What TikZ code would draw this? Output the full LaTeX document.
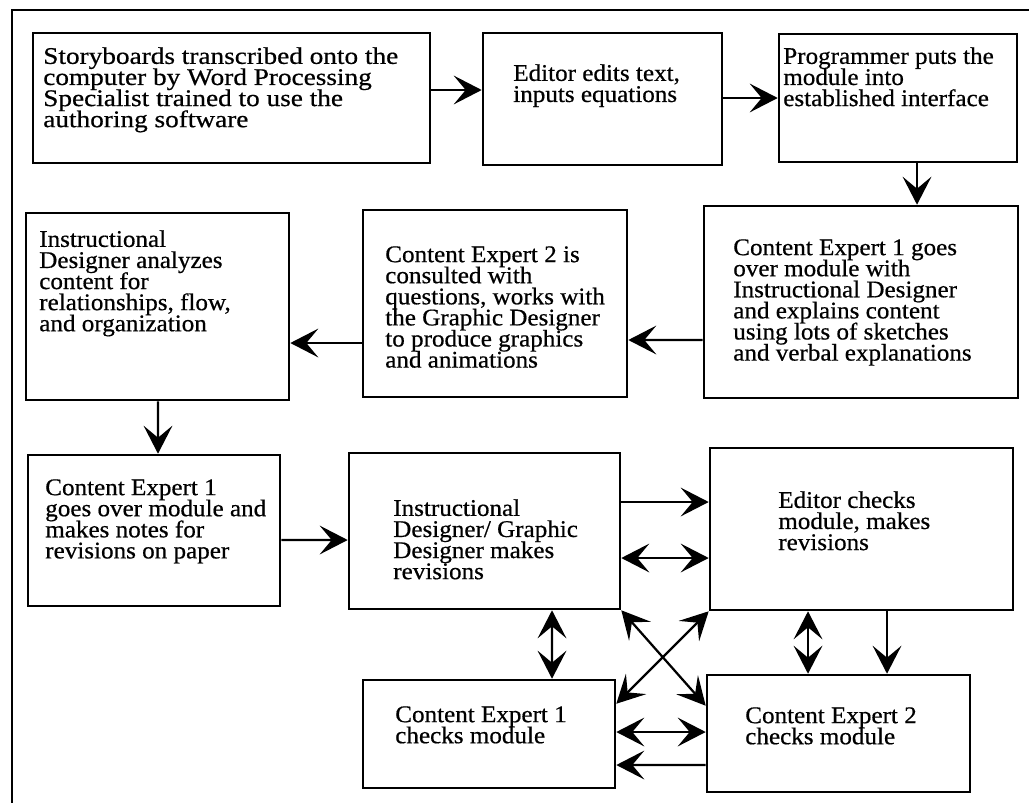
\documentclass[tikz,border=0pt]{standalone}
\usepackage{fontspec}
\setmainfont{Liberation Serif}[FakeStretch=1.05, FakeBold=0.6]
\usetikzlibrary{arrows.meta,calc}

\begin{document}
\begin{tikzpicture}[x=0.025cm, y=-0.025cm]
  \tikzstyle{box}=[rectangle, draw, line width=1.8pt, inner sep=0pt]
  \tikzstyle{txt}=[anchor=north west, inner sep=0pt, align=left,
    font={\fontsize{17}{15}\selectfont\lineskiplimit=-50pt}]
  \tikzstyle{wide}=[font={\fontsize{17}{15}\selectfont\lineskiplimit=-50pt\addfontfeature{FakeStretch=1.14}}]
  \tikzstyle{link}=[line width=1.6pt, >={Stealth[length=0.7cm, width=0.72cm, inset=0.3cm]}]

  \useasboundingbox (0,0) rectangle (1029,803);
  \draw[line width=2pt] (1029,10) -- (12,10) -- (12,803);

  \node[box, minimum width=9.925cm, minimum height=3.25cm]  (1)  at (231.5,98)  {};
  \node[box, minimum width=5.975cm, minimum height=3.3cm]   (2)  at (602.5,99)  {};
  \node[box, minimum width=5.95cm,  minimum height=3.2cm]   (3)  at (898,98)    {};
  \node[box, minimum width=7.85cm,  minimum height=4.8cm]   (4)  at (861,302)   {};
  \node[box, minimum width=6.6cm,   minimum height=4.675cm] (5)  at (495,303.5) {};
  \node[box, minimum width=6.575cm, minimum height=4.675cm] (6)  at (157.5,306.5) {};
  \node[box, minimum width=6.3cm,   minimum height=3.775cm] (7)  at (154,530.5) {};
  \node[box, minimum width=6.775cm, minimum height=3.9cm]   (8)  at (484.5,531) {};
  \node[box, minimum width=7.575cm, minimum height=4.05cm]  (9)  at (861.5,529) {};
  \node[box, minimum width=6.3cm,   minimum height=2.7cm]   (10) at (489,734)   {};
  \node[box, minimum width=6.575cm, minimum height=2.925cm] (11) at (838.5,733.5) {};

  \node[txt, wide] (t1) at (43,47) {Storyboards transcribed onto the\\computer by Word Processing\\Specialist trained to use the\\authoring software};
  \node[txt] (t2)  at (513,64)  {Editor edits text,\\inputs equations};
  \node[txt] (t3)  at (783,47)  {Programmer puts the\\module into\\established interface};
  \node[txt] (t4)  at (733,239) {Content Expert 1 goes\\over module with\\Instructional Designer\\and explains content\\using lots of sketches\\and verbal explanations};
  \node[txt] (t5)  at (385,246) {Content Expert 2 is\\consulted with\\questions, works with\\the Graphic Designer\\to produce graphics\\and animations};
  \node[txt] (t6)  at (39,230)  {Instructional\\Designer analyzes\\content for\\relationships, flow,\\and organization};
  \node[txt] (t7)  at (45,479)  {Content Expert 1\\goes over module and\\makes notes for\\revisions on paper};
  \node[txt] (t8)  at (393,499) {Instructional\\Designer/ Graphic\\Designer makes\\revisions};
  \node[txt] (t9)  at (778,491) {Editor checks\\module, makes\\revisions};
  \node[txt] (t10) at (395,706) {Content Expert 1\\checks module};
  \node[txt] (t11) at (745,707) {Content Expert 2\\checks module};

  \draw[link, ->] ($(1.east)+(0,-8)$) -- ($(2.west)+(0,-9)$);
  \draw[link, ->] ($(2.east)+(0,-1)$) -- (3.west);
  \draw[link, ->] ($(3.south)+(19,0)$) -- ($(4.north)+(56,0)$);
  \draw[link, ->] ($(4.west)+(0,38)$) -- ($(5.east)+(0,36.5)$);
  \draw[link, ->] ($(5.west)+(0,39.5)$) -- ($(6.east)+(0,36.5)$);
  \draw[link, ->] ($(6.south)+(0.5,0)$) -- ($(7.north)+(4,0)$);
  \draw[link, ->] ($(7.east)+(0,9.5)$) -- ($(8.west)+(0,9)$);
  \draw[link, ->] ($(8.east)+(0,-29)$) -- ($(9.west)+(0,-27)$);
  \draw[link, <->] ($(8.east)+(0,27)$) -- ($(9.west)+(0,29)$);
  \draw[link, <->] ($(8.south)+(67.5,0)$) -- ($(10.north)+(63,0)$);
  \draw[link, <->] (8.south east) -- ($(11.north west)+(0,32)$);
  \draw[link, <->] (9.south west) -- ($(10.north east)+(0,25)$);
  \draw[link, <->] ($(9.south)+(-53.5,0)$) -- ($(11.north)+(-30.5,0)$);
  \draw[link, ->] ($(9.south)+(25.5,0)$) -- ($(11.north)+(48.5,0)$);
  \draw[link, <->] ($(10.east)+(0,-2)$) -- ($(11.west)+(0,-1.5)$);
  \draw[link, ->] ($(11.west)+(0,31.5)$) -- ($(10.east)+(0,31)$);
\end{tikzpicture}
\end{document}
